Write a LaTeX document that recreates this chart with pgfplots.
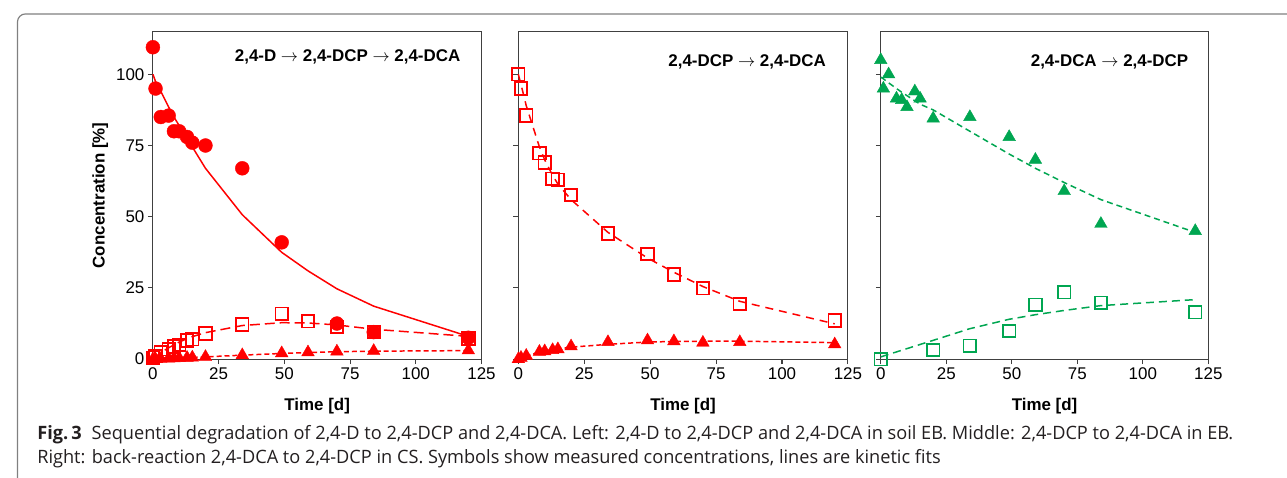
\documentclass[border=0pt]{standalone}
\usepackage{graphicx}
\usepackage{pgfplots}
\pgfplotsset{compat=1.18}
\usepackage{fontspec}
\setmainfont{Liberation Sans}
\newfontfamily\capfont{Open Sans}
\definecolor{myred}{RGB}{255,0,0}
\definecolor{mygreen}{RGB}{0,166,81}
\definecolor{axgray}{RGB}{64,64,64}
\definecolor{framegray}{RGB}{128,128,128}
\definecolor{captext}{RGB}{35,31,32}
\pgfplotsset{
  panel/.style={
    scale only axis, height=329pt, anchor=south west,
    xmin=0, xmax=125, ymin=0, ymax=115,
    xtick={0,25,50,75,100,125}, ytick={0,25,50,75,100},
    xtick pos=bottom, ytick pos=left, tick align=outside,
    major tick length=5pt,
    axis line style={axgray, line width=1.1pt},
    every tick/.append style={axgray, line width=1.1pt},
    tick label style={font=\fontsize{17}{20}\selectfont},
    /pgf/number format/assume math mode=true,
    label style={font=\bfseries\fontsize{17}{20}\selectfont},
    xlabel={Time [d]},
    xlabel style={at={(axis description cs:0.5,-0.143)}, anchor=center},
    clip=false,
  },
  circ/.style={only marks, mark=*, mark size=7pt, color=#1, mark options={solid, fill=#1, draw=#1}},
  sq/.style={only marks, mark=square, mark size=6.3pt, color=#1, mark options={solid, line width=1.8pt, draw=#1, fill=none}},
  tri/.style={only marks, mark=triangle*, mark size=7.3pt, color=#1, mark options={solid, fill=#1, draw=#1}},
}
\newcommand\arr{\ $\rightarrow$\ }
\newlength\capw
\newcommand\capsize{\fontsize{18.5}{22}\selectfont}
\newcommand\capone{\textbf{Fig.\,3}\hspace{0.55em}Sequential degradation of 2,4-D to 2,4-DCP and 2,4-DCA. Left: 2,4-D to 2,4-DCP and 2,4-DCA in soil EB. Middle: 2,4-DCP to 2,4-DCA in EB.}
\newcommand\captwo{Right: back-reaction 2,4-DCA to 2,4-DCP in CS. Symbols show measured concentrations, lines are kinetic fits}
\begin{document}
\settowidth\capw{\capfont\capsize\capone}
\pgfmathsetmacro\capsx{1201pt/\capw}
\begin{tikzpicture}
\useasboundingbox (0,0) rectangle (1287pt,480pt);
\draw[framegray, line width=1.2pt, rounded corners=8pt] (12pt,-10pt) rectangle (1300pt,466pt);

% ---------- left panel ----------
\begin{axis}[panel, width=330pt, at={(148pt,119.3pt)},
  ylabel={Concentration [\%]},
  ylabel style={at={(axis description cs:-0.16,0.5)}, anchor=center}]
\addplot[myred, line width=1.5pt] coordinates {(0,100) (1,97.5) (3,94) (6,88.5) (8,85) (10,82) (13,77.5) (15,74.5) (20,67) (34,50.7) (49,37.5) (59,31) (70,24.7) (84,18.6) (120,8)};
\addplot[myred, line width=1.5pt, dash pattern=on 10pt off 5pt] coordinates {(0,0) (1,0.8) (3,2.3) (6,4) (8,5) (10,6) (13,7.2) (15,7.9) (20,9.3) (34,11.8) (49,12.8) (59,12.7) (70,12) (84,10.5) (120,8)};
\addplot[myred, line width=1.5pt, dash pattern=on 5pt off 3pt] coordinates {(0,0) (20,0.8) (34,1.4) (49,2) (59,2.3) (70,2.6) (84,2.8) (120,3.0)};
\addplot[circ=myred] coordinates {(0,109.5) (1,95) (3,85) (6,85.5) (8,80) (10,80) (13,78) (15,76) (20,75) (34,67) (49,41) (70,12.5) (84,9.5) (120,7.5)};
\addplot[sq=myred] coordinates {(0,0.5) (1,1) (3,2.5) (6,3.5) (8,4.5) (10,5) (13,6.5) (15,7) (20,9) (34,12.2) (49,15.9) (59,13.3) (70,11.3) (84,9.5) (120,7.3)};
\addplot[tri=myred] coordinates {(0,0) (1,0) (3,0.1) (6,0.2) (8,0.3) (10,0.4) (13,0.5) (15,0.6) (20,0.8) (34,1.4) (49,2.1) (59,2.4) (70,2.7) (84,2.9) (120,3.1)};
\node[anchor=east, font=\bfseries\fontsize{17}{20}\selectfont, inner sep=0pt] at (axis cs:117,106) {2,4-D\arr 2,4-DCP\arr 2,4-DCA};
\end{axis}

% ---------- middle panel ----------
\begin{axis}[panel, width=331pt, at={(515pt,119.3pt)}, yticklabels={}]
\addplot[myred, line width=1.5pt, dash pattern=on 8pt off 6pt] coordinates {(0,100) (1,96.5) (3,89) (8,74.5) (10,70) (13,64.5) (15,61.5) (20,56) (34,44.5) (49,35.5) (59,30.5) (70,25.5) (84,20.3) (120,12.4)};
\addplot[myred, line width=1.5pt, dash pattern=on 5pt off 3pt] coordinates {(0,0) (1,0.5) (3,1.2) (8,2.4) (10,2.8) (13,3.3) (15,3.6) (20,4.2) (34,5.2) (49,6.0) (59,6.2) (70,6.3) (84,6.3) (120,5.8)};
\addplot[sq=myred] coordinates {(0,100) (1,95) (3,85.5) (8,72.3) (10,69) (13,63.3) (15,63) (20,57.6) (34,44.1) (49,36.9) (59,29.7) (70,24.9) (84,19.4) (120,13.6)};
\addplot[tri=myred] coordinates {(0,0) (1,0.5) (3,1.2) (8,2.6) (10,2.8) (13,3.2) (15,3.5) (20,4.5) (34,6) (49,6.6) (59,6.3) (70,5.8) (84,6.0) (120,5.2)};
\node[anchor=east, font=\bfseries\fontsize{17}{20}\selectfont, inner sep=0pt] at (axis cs:116.7,104.3) {2,4-DCP\arr 2,4-DCA};
\end{axis}

% ---------- right panel ----------
\begin{axis}[panel, width=329pt, at={(879pt,119.3pt)}, yticklabels={}]
\addplot[mygreen, line width=1.5pt, dash pattern=on 6pt off 4pt] coordinates {(0,99) (1,98.4) (3,97) (6,95) (8,93.7) (10,92.5) (13,90.7) (15,89.5) (20,87.5) (34,80) (49,72) (59,67) (70,62) (84,56) (120,44.5)};
\addplot[mygreen, line width=1.5pt, dash pattern=on 8pt off 5pt] coordinates {(0,0.8) (20,6.6) (34,10.7) (49,14) (59,15.6) (70,17.1) (84,18.8) (120,20.9)};
\addplot[tri=mygreen] coordinates {(0,105) (1,95) (3,100) (6,91.5) (8,91) (10,88.5) (13,94) (15,91.5) (20,84.5) (34,85) (49,78) (59,70) (70,59) (84,47.5) (120,45)};
\addplot[sq=mygreen] coordinates {(0,0) (20,3.2) (34,4.7) (49,9.9) (59,19.1) (70,23.5) (84,19.8) (120,16.5)};
\node[anchor=east, font=\bfseries\fontsize{17}{20}\selectfont, inner sep=0pt] at (axis cs:117.4,104.3) {2,4-DCA\arr 2,4-DCP};
\end{axis}

% ---------- caption ----------
\node[anchor=base west, inner sep=0pt, text=captext] at (31.7pt,38.3pt) {\scalebox{\capsx}[1]{\capfont\capsize\capone}};
\node[anchor=base west, inner sep=0pt, text=captext] at (31.7pt,15pt) {\scalebox{\capsx}[1]{\capfont\capsize\captwo}};
\end{tikzpicture}
\end{document}
